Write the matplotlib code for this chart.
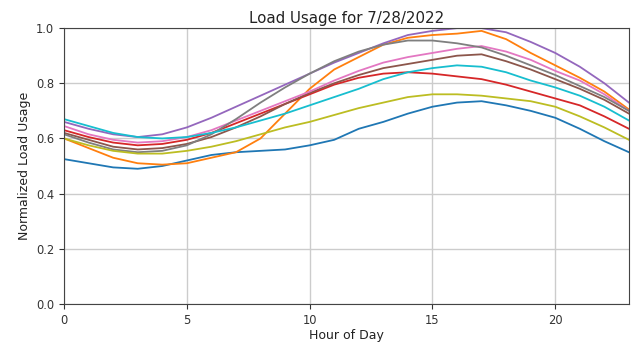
import matplotlib
matplotlib.use("Agg")
import matplotlib.pyplot as plt

hours = list(range(24))
blue = [0.525,0.51,0.495,0.49,0.50,0.52,0.54,0.55,0.555,0.56,0.575,0.595,0.635,0.66,0.69,0.715,0.73,0.735,0.72,0.70,0.675,0.635,0.59,0.55]
orange = [0.60,0.565,0.53,0.51,0.505,0.51,0.53,0.55,0.60,0.69,0.78,0.85,0.895,0.94,0.965,0.975,0.98,0.99,0.96,0.91,0.865,0.82,0.77,0.705]
red = [0.63,0.605,0.585,0.575,0.58,0.595,0.62,0.655,0.69,0.725,0.76,0.795,0.82,0.835,0.84,0.835,0.825,0.815,0.795,0.77,0.745,0.72,0.68,0.635]
purple = [0.66,0.635,0.615,0.605,0.615,0.64,0.675,0.715,0.755,0.795,0.835,0.875,0.91,0.945,0.975,0.99,1.0,1.0,0.985,0.95,0.91,0.86,0.80,0.73]
brown = [0.62,0.595,0.57,0.56,0.565,0.58,0.605,0.64,0.68,0.725,0.765,0.80,0.83,0.855,0.87,0.885,0.90,0.905,0.88,0.85,0.815,0.78,0.74,0.69]
pink = [0.645,0.615,0.595,0.585,0.59,0.605,0.63,0.665,0.70,0.735,0.77,0.81,0.845,0.875,0.895,0.91,0.925,0.935,0.915,0.885,0.845,0.81,0.76,0.70]
gray = [0.615,0.585,0.56,0.55,0.555,0.575,0.615,0.67,0.73,0.785,0.835,0.88,0.915,0.94,0.955,0.955,0.945,0.93,0.90,0.865,0.83,0.79,0.75,0.70]
olive = [0.60,0.575,0.555,0.545,0.545,0.555,0.57,0.59,0.615,0.64,0.66,0.685,0.71,0.73,0.75,0.76,0.76,0.755,0.745,0.735,0.715,0.68,0.64,0.595]
cyan = [0.67,0.645,0.62,0.605,0.60,0.605,0.62,0.64,0.665,0.69,0.72,0.75,0.78,0.815,0.84,0.855,0.865,0.86,0.84,0.81,0.785,0.755,0.715,0.665]

series = [(blue,"#1f77b4"),(orange,"#ff7f0e"),(red,"#d62728"),(purple,"#9467bd"),
          (brown,"#8c564b"),(pink,"#e377c2"),(gray,"#7f7f7f"),(olive,"#bcbd22"),(cyan,"#17becf")]

fig = plt.figure(figsize=(6.34,3.43), dpi=100)
ax = fig.add_axes([0.101,0.114,0.891,0.804])
for vals,c in series:
    ax.plot(hours, vals, color=c, linewidth=1.3)
ax.set_xlim(0,23)
ax.set_ylim(0,1.0)
ax.set_xticks([0,5,10,15,20])
ax.set_yticks([0.0,0.2,0.4,0.6,0.8,1.0])
ax.grid(True, color="#cccccc", linewidth=1)
ax.tick_params(labelsize=8.3, colors="#333333", labelcolor="#333333")
for s in ax.spines.values():
    s.set_color("#444444")
ax.set_title("Load Usage for 7/28/2022", fontsize=10.8, pad=4, color="#222222")
ax.set_xlabel("Hour of Day", fontsize=9, labelpad=2, color="#222222")
ax.set_ylabel("Normalized Load Usage", fontsize=9, color="#222222")
fig.savefig("out.png", dpi=100)
